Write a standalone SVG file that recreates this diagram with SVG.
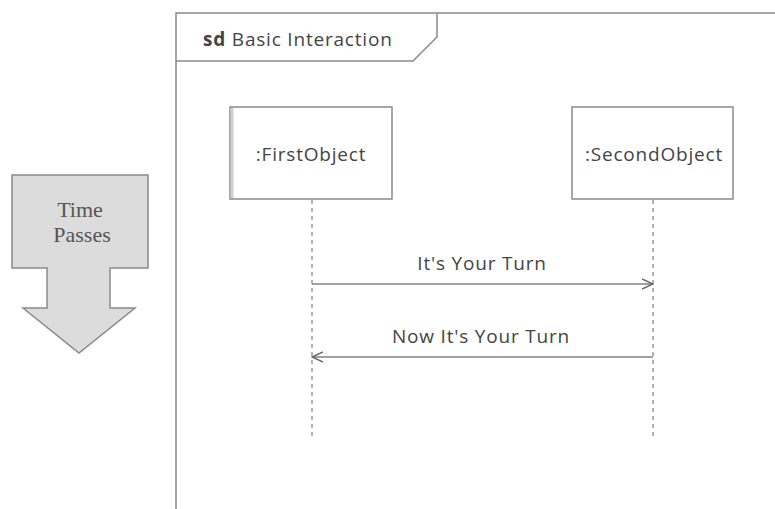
<svg xmlns="http://www.w3.org/2000/svg" width="775" height="509" viewBox="0 0 775 509">
<defs>
<style>
.frame{fill:none;stroke:#8a8a8a;stroke-width:1.5}
.lbl{font-family:"Open Sans","Noto Sans",sans-serif;font-size:19px;letter-spacing:0.8px;fill:#444}
.obj{fill:#fff;stroke:#8a8a8a;stroke-width:1.5}
.life{stroke:#9a9a9a;stroke-width:1.5;stroke-dasharray:4,4;fill:none}
.msg{stroke:#808080;stroke-width:1.5;fill:none}
.tp{font-family:"Liberation Serif",serif;font-size:22px;fill:#555}
</style>
<marker id="open" viewBox="0 0 12 12" refX="11" refY="6" markerWidth="12" markerHeight="12" markerUnits="userSpaceOnUse" orient="auto">
<path d="M0,1 L11,6 L0,11" fill="none" stroke="#666" stroke-width="1.5"/>
</marker>
</defs>
<rect width="775" height="509" fill="#fff"/>
<g id="frame">
<path class="frame" d="M176,509 V13 H775"/>
<path class="frame" d="M437,13 V37 L413,61 H176"/>
<text class="lbl" x="203" y="46"><tspan font-weight="bold">sd</tspan> Basic Interaction</text>
</g>
<g id="time-passes">
<path d="M12,175 H148 V268 H110 V308 H135 L79,353 L23,308 H47 V268 H12 Z" fill="#dcdcdc" stroke="#8a8a8a" stroke-width="1.5"/>
<text class="tp" x="80" y="217" text-anchor="middle">Time</text>
<text class="tp" x="82" y="242" text-anchor="middle">Passes</text>
</g>
<g id="first-object">
<rect class="obj" x="230" y="107" width="162" height="92"/>
<rect x="230.5" y="108" width="3" height="90" fill="#cfcfcf"/>
<text class="lbl" x="311" y="161" text-anchor="middle">:FirstObject</text>
</g>
<g id="second-object">
<rect class="obj" x="572" y="107" width="161" height="92"/>
<text class="lbl" x="654" y="161" text-anchor="middle">:SecondObject</text>
</g>
<g id="connectors">
<line class="life" x1="312" y1="200" x2="312" y2="437"/>
<line class="life" x1="653" y1="200" x2="653" y2="437"/>
<line class="msg" x1="312" y1="284" x2="653" y2="284" marker-end="url(#open)"/>
<text class="lbl" x="482" y="270" text-anchor="middle">It's Your Turn</text>
<line class="msg" x1="653" y1="357" x2="312" y2="357" marker-end="url(#open)"/>
<text class="lbl" x="481" y="343" text-anchor="middle">Now It's Your Turn</text>
</g>
</svg>
